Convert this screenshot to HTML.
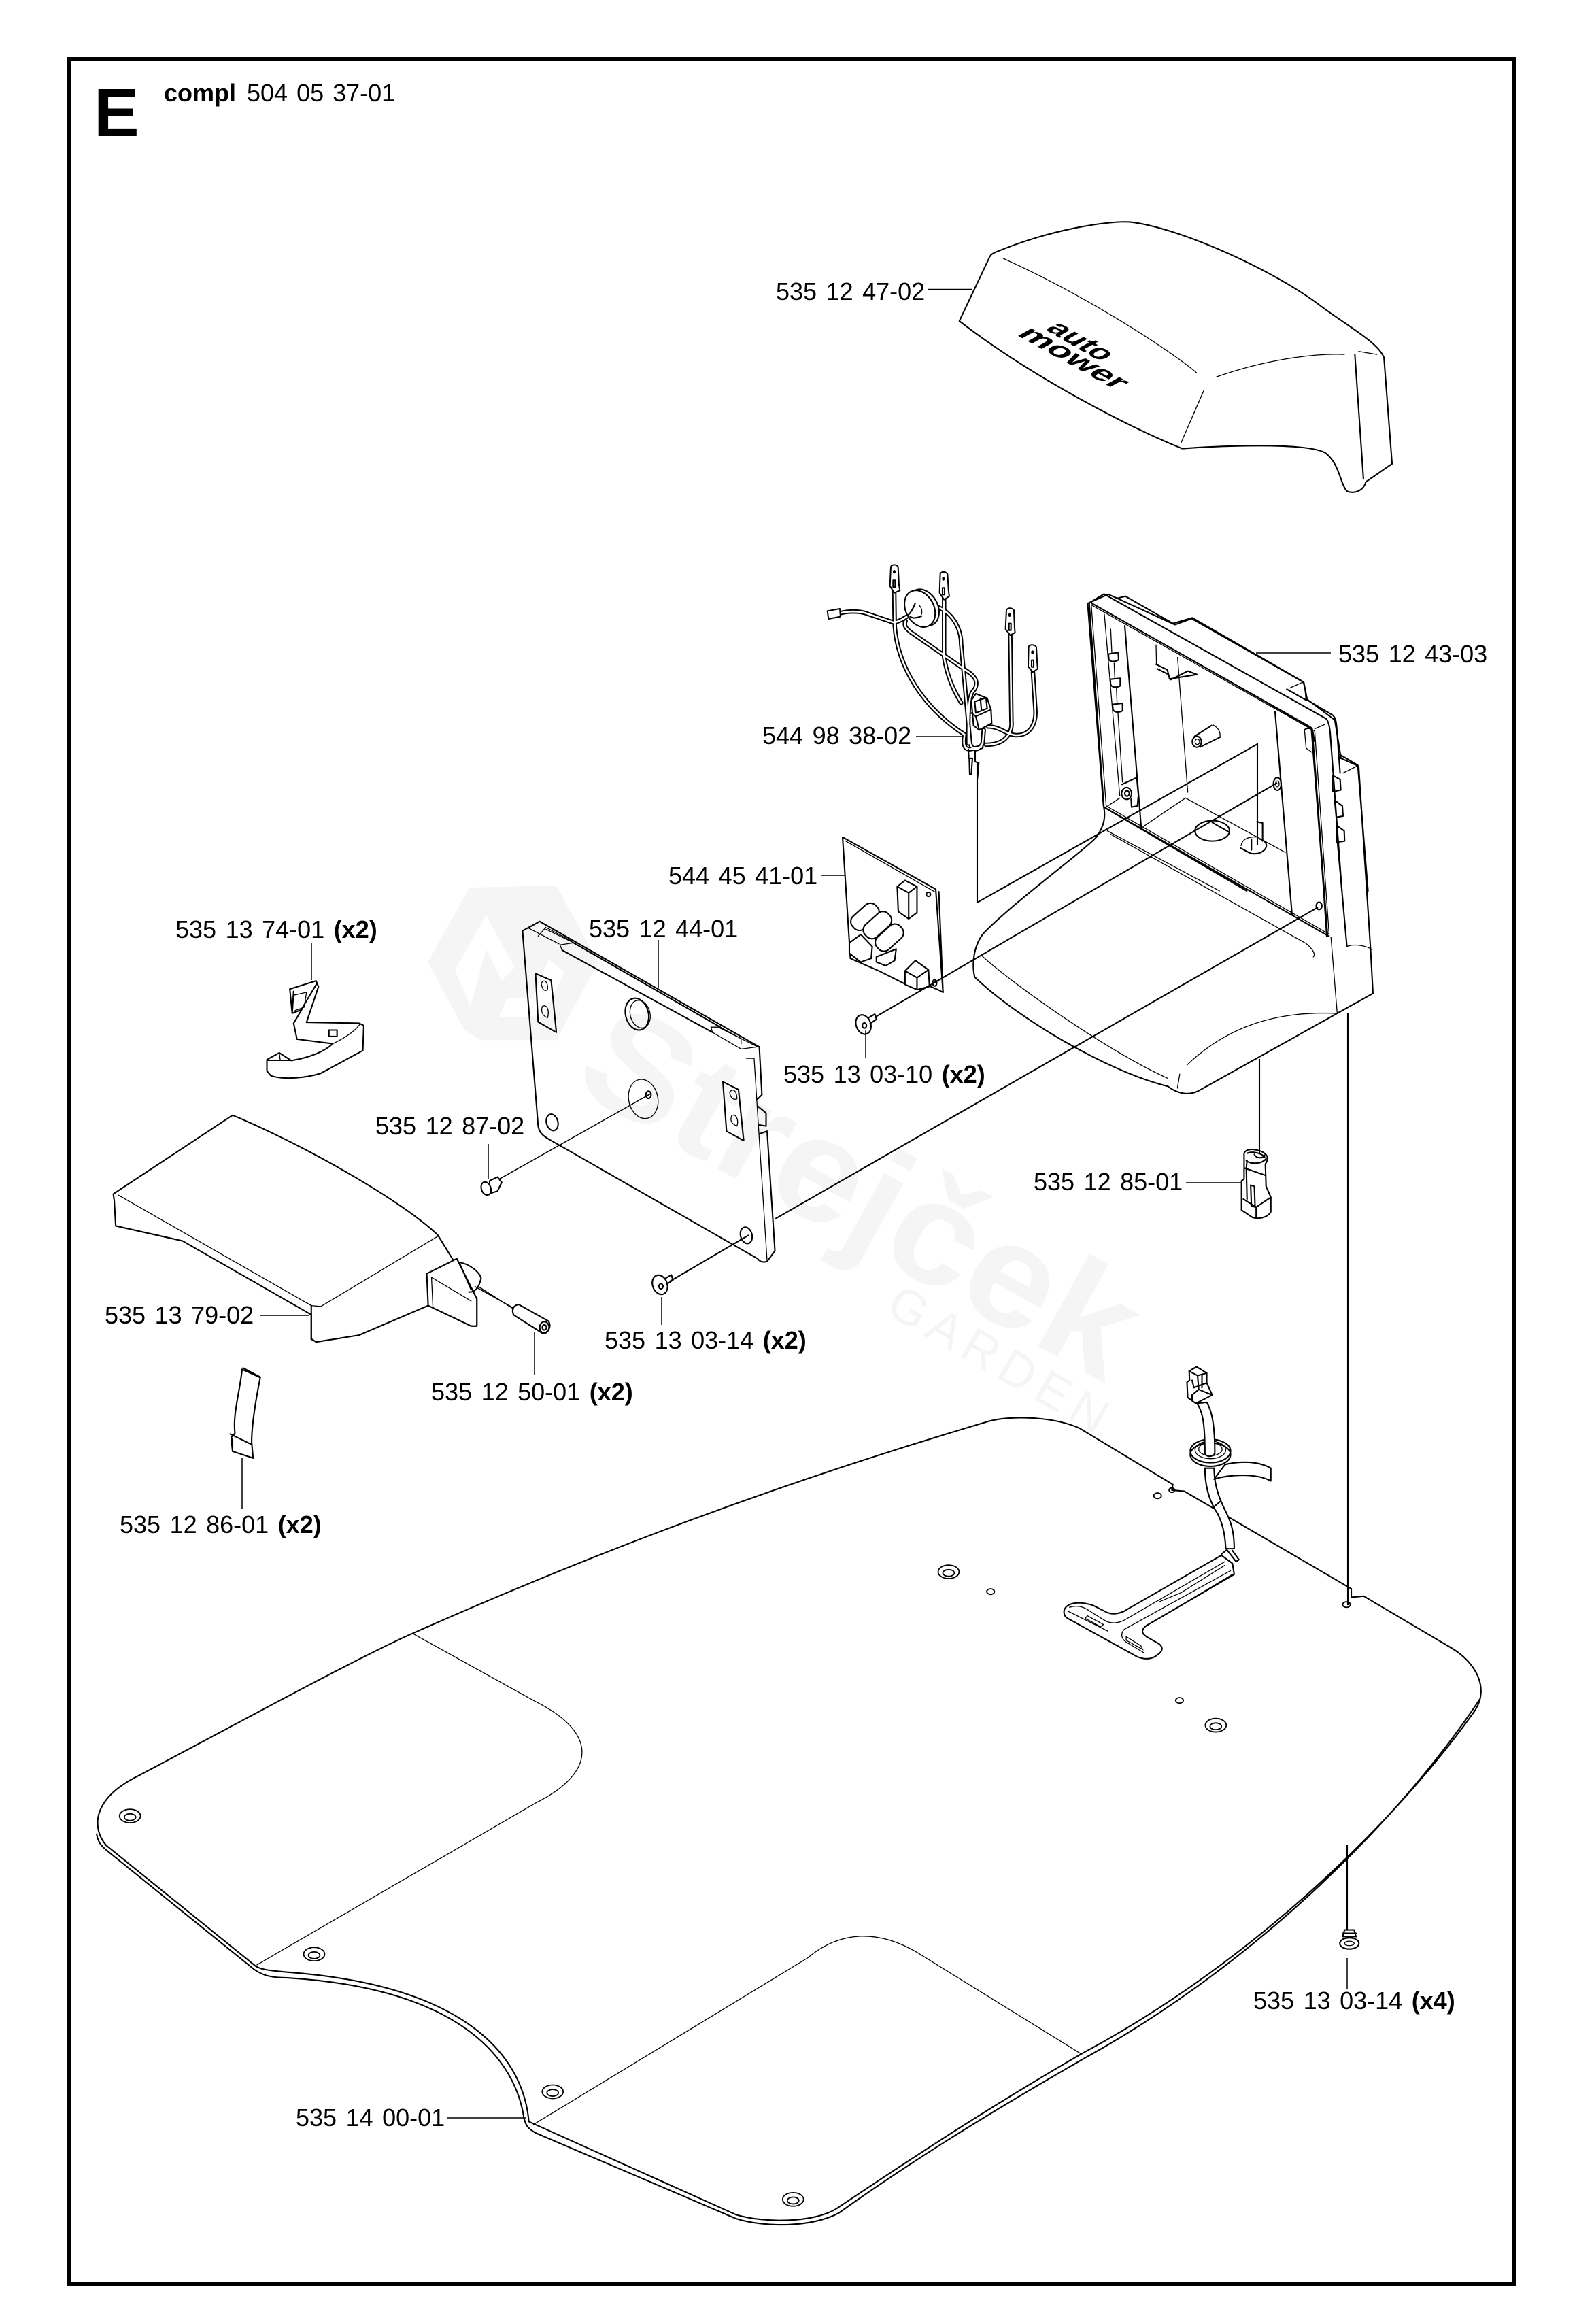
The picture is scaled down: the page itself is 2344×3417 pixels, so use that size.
<!DOCTYPE html>
<html><head><meta charset="utf-8"><title>E compl 504 05 37-01</title>
<style>
html,body{margin:0;padding:0;background:#fff}
svg{display:block}
path,line,ellipse,rect,polyline,polygon,circle{vector-effect:non-scaling-stroke}
.m{fill:none;stroke:#000;stroke-width:2.1;stroke-linejoin:round;stroke-linecap:round}
.f{fill:#fff;stroke:#000;stroke-width:2.1;stroke-linejoin:round}
.t{fill:none;stroke:#000;stroke-width:1.3;stroke-linecap:round}
.l{fill:none;stroke:#000;stroke-width:1.5}
.x{fill:none;stroke:#000;stroke-width:2.1}
.wb{fill:none;stroke:#000;stroke-width:6.5;stroke-linecap:round}
.ww{fill:none;stroke:#fff;stroke-width:2.6;stroke-linecap:round}
text{font-family:"Liberation Sans",sans-serif;fill:#000}
.lb{font-size:36px;word-spacing:3.5px}
</style></head><body>
<svg width="2344" height="3417" viewBox="0 0 2344 3417" xmlns="http://www.w3.org/2000/svg">
<rect width="2344" height="3417" fill="#fff"/>
<rect x="101" y="87" width="2126" height="3271" fill="none" stroke="#000" stroke-width="6"/>
<text x="138" y="200" style="font-size:100px;font-weight:700">E</text>
<text x="241" y="149" style="font-size:36px;font-weight:700">compl</text>
<text x="363" y="149" style="font-size:36px;word-spacing:3px">504 05 37-01</text>

<!-- Top cover -->
<g transform="translate(1100,280) scale(.7015,.893)">
<path class="f" d="M443,215 L505,112 C508,106 512,104 518,102 C640,62 760,50 800,52 C900,60 1100,130 1200,190 C1260,225 1320,250 1333,275 L1350,450 L1295,480 C1290,495 1270,500 1255,495 C1240,480 1240,450 1210,432 C1170,415 1000,420 910,425 C800,390 600,310 443,215 Z"/>
<path class="t" d="M535,112 C700,170 880,260 940,300 M982,307 C1080,280 1180,268 1250,270 M955,330 L908,415 M1280,265 L1318,270"/>
<path class="m" d="M1272,270 L1290,475"/>
</g>
<text transform="translate(1536,484) rotate(30) skewX(-32)" x="0" y="0" textLength="96" lengthAdjust="spacingAndGlyphs" style="font-size:36px;font-weight:700">auto</text>
<text transform="translate(1494,492) rotate(29) skewX(-32)" x="0" y="0" textLength="168" lengthAdjust="spacingAndGlyphs" style="font-size:36px;font-weight:700">mower</text>

<!-- Housing -->
<g transform="translate(1100,280) scale(.7015,.893)">
<path class="f" d="M775,672 L895,715 L930,705 L1165,810 L1172,838 L1230,872 L1243,935 L1280,948 L1305,1250 L1310,1322 L950,1480 C930,1490 905,1490 880,1475 C750,1450 560,1360 475,1295 C468,1270 475,1240 495,1222 C560,1170 700,1090 730,1065 C748,1045 750,1030 745,1012 L712,680 L755,665 Z"/>
<path class="t" d="M490,1260 C560,1310 760,1420 880,1462 M920,1440 C1000,1380 1100,1350 1235,1355 L1222,1230 M1255,1245 C1270,1240 1295,1243 1308,1250 M760,1060 L1170,1240 C1185,1250 1190,1258 1185,1262 M905,1455 L900,1478"/>
<ellipse class="m" cx="1197" cy="1178" rx="6" ry="6"/>
</g>
<g transform="translate(1600,860) scale(.3333)">
<path class="m" d="M5,80 L70,40 L1050,590 C1060,600 1065,620 1068,650 L1120,1350 L1142,1596"/>
<path class="m" d="M125,60 L165,50 L375,170 L460,145 L945,425 C955,435 960,470 962,505 L1080,575 C1090,585 1095,600 1097,630 L1112,830"/>
<path class="t" d="M1000,635 L1045,615 M890,455 L945,430"/>
<path class="m" d="M877,460 L965,510"/>
<path class="m" d="M5,80 L70,980 L1062,1550"/>
<path class="t" d="M14,85 L80,975 L1062,1540 M20,82 L990,635 L1058,1550 M14,88 L1000,645 L1064,1550 M8,76 L980,625 M990,640 L1052,1550"/>
<path class="m" d="M15,80 L985,630 L1056,1550 M78,985 L700,1350"/>
<path class="m" d="M162,180 L235,1075 M825,560 L900,1455 M1105,745 L1190,795 L1235,1350 M1100,1130 L1120,1350"/>
<path class="t" d="M72,130 L140,930 M100,195 L105,300 M115,345 L118,410 M125,450 L128,520 M132,565 L152,870 M300,265 L302,350 M395,320 L440,915 M87,975 L140,940 M245,1065 L430,940 L870,1180 M85,1085 L580,1350 M1125,830 L1185,800"/>
<path class="m" d="M90,305 L133,298 L135,330 C120,340 100,340 92,330 Z M98,416 L142,412 L142,445 C125,455 105,452 100,440 Z M108,527 L152,522 L152,555 C135,565 115,562 110,550 Z"/>
<path class="m" d="M300,350 L350,375 L360,415 L480,395 L440,380 L365,418 M305,370 L355,395"/>
<ellipse class="m" cx="480" cy="692" rx="20" ry="24"/><ellipse class="t" cx="482" cy="692" rx="10" ry="12"/>
<path class="m" d="M470,668 L545,620 M495,715 L582,672"/><path class="t" d="M552,618 C575,630 585,650 582,672"/>
<ellipse class="m" cx="548" cy="1085" rx="76" ry="45"/><path class="m" d="M548,1048 L618,1088"/>
<path class="m" d="M672,1160 C690,1170 710,1182 722,1185 C760,1190 785,1170 787,1150 C785,1130 770,1125 755,1120"/><path class="t" d="M675,1150 C680,1120 710,1110 745,1112 M722,1120 L722,1170"/>
<path class="m" d="M745,1045 L770,1050 L770,1130"/>
<ellipse class="m" cx="170" cy="920" rx="22" ry="26"/><ellipse class="m" cx="172" cy="920" rx="10" ry="12"/>
<path class="m" d="M150,880 L215,850 L222,925 M190,945 L192,980 L218,975 L222,930"/>
<ellipse class="m" cx="835" cy="878" rx="17" ry="28"/><ellipse class="t" cx="835" cy="878" rx="8" ry="13"/>
<path class="m" d="M1078,840 L1112,858 L1115,905 L1080,912 Z M1088,950 L1122,975 L1125,1020 L1095,1025 Z M1095,1060 L1130,1085 L1132,1130 L1098,1135 Z"/>
<path class="t" d="M955,640 L962,720 L990,740"/>
<path class="m" d="M955,640 C965,630 980,630 988,640 C995,650 995,670 998,690"/>
</g>

<!-- Wiring harness -->
<defs>
<path id="wp" d="M345,210 L347,360 C360,540 470,720 655,840 C650,880 650,905 680,905 L730,895 M565,240 L565,500 C580,590 610,650 640,700 M530,275 C600,300 640,370 640,440 L680,880 C690,910 715,915 735,880 L740,820 M395,340 C385,360 400,375 420,390 L680,570 C705,590 715,610 700,640 C680,660 670,680 672,880 M857,400 L862,780 C867,830 840,885 750,885 M957,565 L967,720 C975,800 940,845 880,843 C840,840 810,805 760,805 M105,305 C140,295 190,295 220,305 L340,345 C365,345 390,325 410,315"/>
</defs>
<g transform="translate(1200,800) scale(.3333)">
<use href="#wp" class="wb"/>
<use href="#wp" class="ww"/>
<g class="f" style="stroke-width:2">
<path d="M330,100 C335,88 355,88 362,100 L366,180 L370,205 L345,215 L326,185 Z"/>
<path d="M548,130 C555,120 572,120 580,132 L585,210 L588,230 L565,245 L545,215 Z"/>
<path d="M840,290 C848,280 865,280 873,292 L876,370 L878,390 L857,402 L836,375 Z"/>
<path d="M938,452 C945,442 965,442 972,455 L976,530 L978,550 L957,565 L936,540 Z"/>
<path d="M50,295 L105,285 L108,320 L55,330 Z"/>
</g>
<ellipse cx="345" cy="122" rx="3" ry="5" class="m"/><rect x="340" y="160" width="9" height="30" class="m"/>
<ellipse cx="562" cy="153" rx="3" ry="5" class="m"/><rect x="558" y="193" width="9" height="30" class="m"/>
<ellipse cx="854" cy="313" rx="3" ry="5" class="m"/><rect x="851" y="350" width="9" height="30" class="m"/>
<ellipse cx="955" cy="477" rx="3" ry="5" class="m"/><rect x="951" y="512" width="9" height="30" class="m"/>
<ellipse class="f" cx="475" cy="280" rx="62" ry="85" transform="rotate(-28 475 280)"/>
<ellipse class="f" cx="458" cy="285" rx="62" ry="85" transform="rotate(-28 458 285)"/>
<path class="m" d="M405,315 C420,300 430,280 437,262 M415,320 C430,330 445,325 465,318"/>
<path class="t" d="M455,270 C470,285 470,305 460,320"/>
<path class="f" d="M685,690 L705,660 L755,680 L772,730 L775,790 L720,820 L695,800 Z"/>
<path class="m" d="M700,695 L750,678 L755,725 L705,745 Z M685,745 L705,760 L772,730 M705,760 L720,820 M725,680 L730,735"/>
<path class="m" d="M672,905 L674,945 L690,945 L685,1015 L678,1015 L676,945 M702,910 L702,960 L718,965 L712,1035"/>
</g>

<!-- PCB -->
<g transform="translate(600,1250) scale(.7653)">
<path class="f" d="M835,-25 L1014,75 L1028,273 L1018,268 L995,258 L965,262 L905,232 L850,208 Z"/>
<path class="m" d="M1020,80 L1028,273"/>
<path class="t" d="M840,-18 L1012,80"/>
<circle class="m" cx="1000" cy="85" r="4"/>
<ellipse class="m" cx="1012" cy="255" rx="4" ry="6"/>
<path class="f" d="M940,70 L955,58 L978,70 L978,120 L962,132 L942,118 Z M940,70 L962,82 L978,70 M962,82 L962,132"/>
<g class="f">
<rect x="848" y="112" width="60" height="32" rx="14" transform="rotate(-42 878 128)"/>
<rect x="872" y="128" width="60" height="32" rx="14" transform="rotate(-42 902 144)"/>
<rect x="895" y="152" width="60" height="32" rx="14" transform="rotate(-42 925 168)"/>
<path d="M848,178 L870,162 L892,185 L890,208 L870,215 L848,198 Z"/>
<path d="M900,205 L925,195 L938,190 L935,212 L918,222 L900,215 Z"/>
<path d="M955,232 L975,212 L1000,230 L1002,262 L978,268 L955,258 Z M955,232 L978,245 L1000,230 M978,245 L978,268"/>
</g>
<!-- Back plate -->
<path class="m" d="M220,155 L253,137 L675,378 L680,470 L670,480"/>
<path class="m" d="M672,492 L688,505 L688,530 L675,528"/>
<path class="m" d="M675,545 L690,540 L705,770 L690,790 C682,793 675,790 672,785 L270,555 C258,548 252,542 250,530 L220,155"/>
<path class="m" d="M296,192 L585,350 M318,178 L600,340"/>
<path class="t" d="M296,192 L292,182 L318,178 M585,350 L582,340 L600,340 M232,150 L290,180 M265,152 L318,178 M265,148 L250,165 M600,340 L640,362 L672,378 M585,350 L640,382 L672,378 M665,400 L690,790 M650,400 L665,400"/>
<path class="t" d="M600,342 L640,362 L640,372 M268,150 L315,175"/>
<path class="m" d="M245,237 L275,250 L285,350 L250,330 Z M605,445 L635,460 L645,558 L612,540 Z"/>
<path class="t" d="M256,256 C262,245 270,255 268,268 C262,272 258,268 256,256 M258,300 C268,295 272,310 268,322 C258,318 255,310 258,300 M618,465 C626,455 632,465 632,478 C626,480 620,478 618,465 M622,510 C630,505 636,518 632,530 C622,526 618,520 622,510"/>
<ellipse class="m" cx="440" cy="315" rx="22" ry="31" transform="rotate(-14 440 315)"/>
<ellipse class="t" cx="446" cy="315" rx="19" ry="27" transform="rotate(-14 446 315)"/>
<ellipse class="t" cx="452" cy="478" rx="28" ry="38" transform="rotate(-12 452 478)"/>
<ellipse class="m" cx="462" cy="470" rx="5" ry="7"/>
<ellipse class="m" cx="277" cy="523" rx="11" ry="16" transform="rotate(-15 277 523)"/>
<ellipse class="m" cx="650" cy="740" rx="11" ry="16" transform="rotate(-15 650 740)"/>
<path class="l" d="M466,468 L170,635"/>
<!-- screws -->
<g>
<ellipse class="f" cx="875" cy="335" rx="14" ry="19" transform="rotate(-20 875 335)"/>
<ellipse class="m" cx="877" cy="337" rx="4" ry="5"/>
<path class="m" d="M885,322 L897,315 L900,325 L888,333"/>
</g>
<g>
<ellipse class="f" cx="484" cy="835" rx="14" ry="19" transform="rotate(-20 484 835)"/>
<ellipse class="m" cx="486" cy="838" rx="4" ry="5"/>
<path class="m" d="M494,823 L506,816 L509,826 L497,834"/>
</g>
<path class="f" d="M157,635 L172,628 L180,638 L172,655 L155,660 Z"/>
<ellipse class="f" cx="150" cy="650" rx="9" ry="13" transform="rotate(-20 150 650)"/>
<!-- pin 535 12 50-01 -->
<path class="f" d="M213,873 L270,905 C276,915 270,928 258,928 L203,893 C198,882 203,874 213,873 Z"/>
<ellipse class="m" cx="262" cy="917" rx="9" ry="11"/>
<ellipse class="m" cx="262" cy="917" rx="4" ry="5"/>
<path class="l" d="M128,838 L203,880"/>
</g>

<!-- Clip -->
<g transform="translate(100,1250) scale(.7015,.6696)">
<path class="f" d="M465,305 L520,287 L525,300 L500,378 L610,380 L620,385 L618,440 L530,490 C500,500 450,505 425,495 L417,485 L417,460 L443,445 L468,462 C510,455 540,440 555,425 L480,415 L473,380 L490,350 L470,358 Z"/>
<path class="m" d="M473,310 L470,358 M522,292 L488,352"/>
<path class="t" d="M555,425 C575,415 600,400 612,382 M417,462 L468,462 M443,445 L445,462"/>
<rect class="m" x="547" y="395" width="17" height="14"/>
<path class="t" d="M475,318 L500,312 L495,345 L476,352"/>
<!-- left cover -->
<path class="f" d="M95,755 L345,582 C500,650 700,770 775,845 L825,930 L857,985 L857,1045 L845,1045 L755,1000 L610,1065 L520,1080 L510,1073 L510,1020 L240,858 L100,825 L97,770 Z"/>
<path class="t" d="M105,757 L510,1000 L530,1002 L775,848"/>
<path class="m" d="M510,1000 L510,1075"/>
<path class="f" d="M752,930 L815,897 L857,985 L857,1045 L845,1045 L755,1000 Z"/>
<path class="t" d="M762,938 L845,990 M762,938 L765,1005"/>
<path class="m" d="M820,905 C840,908 862,925 866,940 C862,958 855,972 840,970 M820,905 L845,965"/>
<path class="l" d="M860,958 L935,1008"/>
<!-- strap -->
<path class="f" d="M365,1140 L403,1158 C395,1200 385,1260 385,1300 L388,1335 L345,1320 L342,1290 L350,1280 C345,1240 360,1190 365,1140 Z"/>
<path class="m" d="M340,1282 L385,1305 M345,1292 L345,1320 M367,1137 L403,1157"/>
</g>

<!-- Baseboard -->
<g transform="translate(100,2050) scale(1.403,.829)">
<path class="f" d="M965,48 C985,38 1030,38 1060,60 L1158,160 L1157,170 L1170,172 L1345,345 L1345,360 L1358,358 L1450,450 C1475,475 1490,520 1475,560 C1400,740 1250,1000 1062,1170 C960,1270 880,1360 805,1445 C780,1470 730,1470 700,1455 L483,1290 C478,1190 430,1050 230,1025 C210,1022 200,1020 195,1012 L40,800 C25,770 25,720 70,680 C160,600 300,470 360,425 C500,320 700,180 965,48 Z"/>
<path class="m" d="M30,780 C32,800 38,805 45,815 L195,1020 C205,1032 215,1035 230,1035 C420,1055 470,1190 478,1285 C480,1295 480,1300 490,1310 L700,1462 C730,1478 780,1478 808,1452 C880,1365 960,1280 1065,1178 C1250,1005 1400,745 1480,540"/>
<path class="t" d="M362,425 L490,545 C555,600 555,670 490,725 L198,1012 M488,1295 L775,1000 C810,950 850,950 890,990 L1062,1170"/>
<g class="m" style="stroke-width:1.8">
<ellipse cx="65" cy="748" rx="11" ry="12"/><ellipse cx="65" cy="750" rx="6" ry="6"/>
<ellipse cx="258" cy="993" rx="11" ry="12"/><ellipse cx="258" cy="995" rx="6" ry="6"/>
<ellipse cx="508" cy="1237" rx="11" ry="12"/><ellipse cx="508" cy="1239" rx="6" ry="6"/>
<ellipse cx="760" cy="1428" rx="11" ry="12"/><ellipse cx="760" cy="1430" rx="6" ry="6"/>
<ellipse cx="923" cy="315" rx="11" ry="12"/><ellipse cx="923" cy="317" rx="6" ry="6"/>
<ellipse cx="1203" cy="587" rx="11" ry="12"/><ellipse cx="1203" cy="589" rx="6" ry="6"/>
<ellipse cx="967" cy="350" rx="4" ry="5"/><ellipse cx="1165" cy="543" rx="4" ry="5"/>
<ellipse cx="1142" cy="180" rx="4" ry="5"/><ellipse cx="1340" cy="373" rx="4" ry="5"/>
<ellipse cx="1157" cy="170" rx="3" ry="4"/>
</g>
<!-- x4 screw -->
<path class="m" d="M1338,950 L1348,950 L1350,962 L1336,962 Z M1336,956 L1350,956"/>
<ellipse class="f" cx="1343" cy="974" rx="10" ry="10"/><ellipse class="t" cx="1343" cy="974" rx="5" ry="4"/>
</g>

<!-- Cable, T piece, connector -->
<g transform="translate(1500,1650) scale(.5383)">
<path class="f" d="M120,1335 C125,1315 155,1305 200,1320 L230,1335 C245,1345 265,1345 285,1335 L550,1183 L580,1205 L585,1235 L345,1375 C332,1385 330,1395 345,1405 L380,1425 C392,1435 390,1445 375,1455 C360,1468 340,1468 320,1460 L130,1355 C122,1350 120,1345 120,1335 Z"/>
<path class="t" d="M135,1325 C150,1320 170,1320 190,1335 L230,1360 C245,1370 265,1370 285,1360 L560,1200 M285,1385 L575,1225 M285,1385 C275,1395 275,1410 290,1420 L340,1450 M130,1335 L240,1390 M380,1310 L440,1285 L560,1210 M430,1325 L580,1235 M178,1355 L220,1378 L228,1372 L184,1348 Z M290,1405 L330,1430 L335,1440 L290,1415 Z"/>
<path class="f" d="M505,945 C505,1000 520,1040 540,1070 C555,1100 560,1130 562,1165 L585,1165 C585,1130 580,1100 565,1070 C550,1040 530,1000 530,945 Z"/>
<path class="m" d="M530,1050 L548,1035 M565,1168 L590,1200 L598,1195 L580,1170 M565,1168 L550,1180"/>
<path class="f" d="M560,935 C600,925 650,925 685,945 L685,980 C650,960 580,960 530,975 Z"/>
<ellipse class="f" cx="520" cy="908" rx="55" ry="32"/>
<ellipse class="m" cx="520" cy="898" rx="55" ry="32"/>
<ellipse class="t" cx="520" cy="895" rx="42" ry="24"/>
<ellipse class="t" cx="520" cy="893" rx="32" ry="18"/>
<path class="f" d="M483,768 C500,790 505,830 505,905 C510,915 525,915 532,905 C532,830 525,790 510,765 Z"/>
<path class="f" d="M462,680 L482,668 L510,685 L510,712 L525,745 L480,768 L458,752 L456,710 L463,705 Z"/>
<path class="m" d="M462,680 L485,692 L510,685 M485,692 L488,730 M470,705 L475,725 L510,712 M488,730 L470,745 L470,760 M488,730 L525,745 M497,690 L497,725"/>
<path class="f" d="M612,90 C610,78 625,72 640,75 C665,78 680,90 675,105 L670,115 L672,175 L685,205 L685,245 C675,262 650,265 635,260 L605,240 L605,160 L612,155 Z"/>
<path class="m" d="M618,105 C630,115 660,115 672,100 M620,85 C635,78 660,85 668,95 M640,88 C645,100 665,100 668,90 M620,105 L618,125 L620,210 M612,125 L670,145 M630,172 L640,175 L642,232 L632,228 Z M610,210 L645,232 L685,205 M645,232 L645,262"/>
</g>

<!-- connectors -->
<g class="x">
<path d="M1437,1122 L1437,1327 L1849,1094 L1849,1243"/>
<line x1="1286" y1="1496" x2="1878" y2="1151"/>
<line x1="1140" y1="1792" x2="1938" y2="1334"/>
<line x1="985" y1="1884" x2="1101" y2="1816"/>
<line x1="1852" y1="1557" x2="1852" y2="1697"/>
<line x1="1982" y1="1490" x2="1982" y2="2360"/>
<line x1="1981" y1="2713" x2="1981" y2="2838"/>
</g>
<!-- leaders -->
<g class="l">
<line x1="1365" y1="425.5" x2="1430" y2="425.5"/>
<line x1="1847" y1="960" x2="1957" y2="960"/>
<line x1="1347" y1="1083" x2="1417" y2="1083"/>
<line x1="1207" y1="1287" x2="1243" y2="1287"/>
<line x1="968" y1="1382" x2="968" y2="1453"/>
<line x1="458" y1="1387" x2="458" y2="1441"/>
<line x1="718" y1="1682" x2="718" y2="1734"/>
<line x1="383" y1="1934" x2="454" y2="1934"/>
<line x1="786" y1="1958" x2="786" y2="2021"/>
<line x1="973" y1="1907" x2="973" y2="1948"/>
<line x1="1273" y1="1514" x2="1273" y2="1556"/>
<line x1="1744" y1="1739" x2="1826" y2="1739"/>
<line x1="356" y1="2144" x2="356" y2="2218"/>
<line x1="1981" y1="2879" x2="1981" y2="2925"/>
<line x1="658" y1="3114" x2="773" y2="3114"/>
</g>
<!-- labels -->
<text class="lb" x="1141" y="441">535 12 47-02</text>
<text class="lb" x="1968" y="974">535 12 43-03</text>
<text class="lb" x="1121" y="1094">544 98 38-02</text>
<text class="lb" x="983" y="1300">544 45 41-01</text>
<text class="lb" x="866" y="1378">535 12 44-01</text>
<text class="lb" x="258" y="1379">535 13 74-01 <tspan font-weight="700">(x2)</tspan></text>
<text class="lb" x="552" y="1668">535 12 87-02</text>
<text class="lb" x="154" y="1946">535 13 79-02</text>
<text class="lb" x="634" y="2059">535 12 50-01 <tspan font-weight="700">(x2)</tspan></text>
<text class="lb" x="889" y="1983">535 13 03-14 <tspan font-weight="700">(x2)</tspan></text>
<text class="lb" x="1152" y="1592">535 13 03-10 <tspan font-weight="700">(x2)</tspan></text>
<text class="lb" x="1520" y="1750">535 12 85-01</text>
<text class="lb" x="176" y="2254">535 12 86-01 <tspan font-weight="700">(x2)</tspan></text>
<text class="lb" x="1843" y="2954">535 13 03-14 <tspan font-weight="700">(x4)</tspan></text>
<text class="lb" x="435" y="3126">535 14 00-01</text>

<!-- watermark -->
<g style="opacity:.04">
<g transform="translate(600,1250) scale(.7653)">
<path fill-rule="evenodd" d="M38,215 L118,72 L285,68 L365,215 L285,365 L140,365 L108,345 Z M90,230 L150,125 L205,225 L180,250 L150,190 L120,300 Z M175,320 L260,320 L300,235 L270,210 L240,285 L190,285 Z" fill="#000"/>
</g>
<text transform="translate(838,1598) rotate(29)" x="0" y="0" textLength="900" lengthAdjust="spacingAndGlyphs" style="font-size:215px;font-weight:700;fill:#000">Strejček</text>
<text transform="translate(1300,1930) rotate(30)" x="0" y="0" textLength="360" style="font-size:72px;fill:#000">GARDEN</text>
</g>
</svg>
</body></html>
